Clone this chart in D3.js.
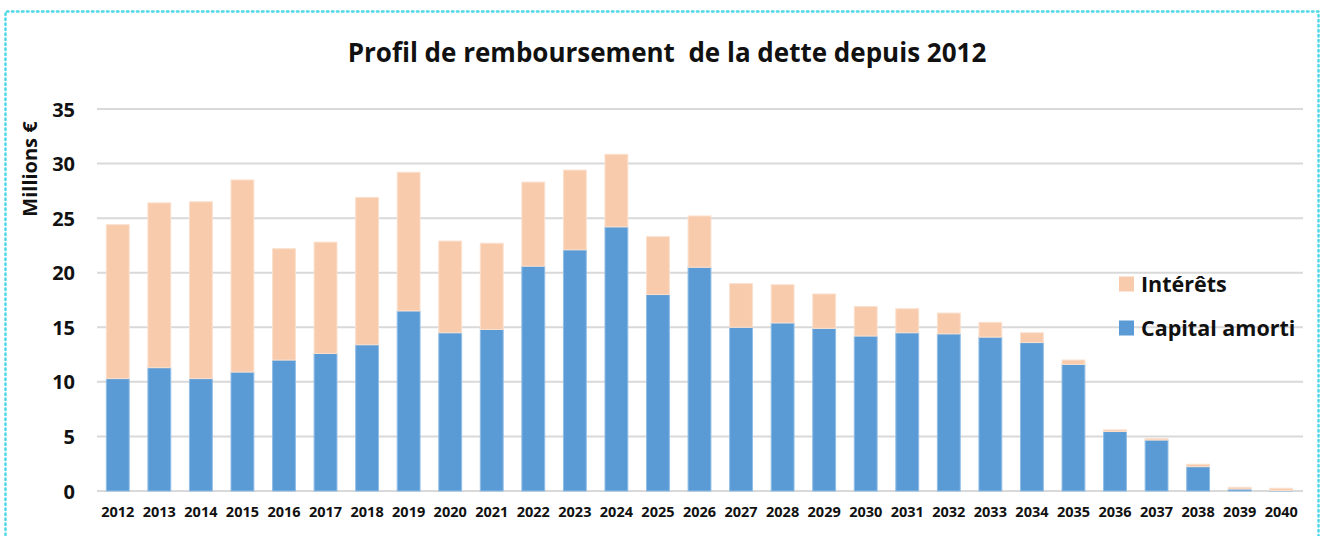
<!DOCTYPE html>
<html>
<head>
<meta charset="utf-8">
<script src="https://cdn.jsdelivr.net/npm/d3@7"></script>
<style>
  html, body { margin: 0; padding: 0; background: #fff; }
  svg { display: block; }
  text { font-family: "Open Sans", "Noto Sans", sans-serif; font-weight: bold; fill: #111; }
</style>
</head>
<body>
<svg id="chart" width="1322" height="536"></svg>
<script>
const years = ["2012","2013","2014","2015","2016","2017","2018","2019","2020","2021","2022","2023","2024","2025","2026","2027","2028","2029","2030","2031","2032","2033","2034","2035","2036","2037","2038","2039","2040"];
const capitalAmorti = [10.3,11.3,10.3,10.9,12.0,12.6,13.4,16.5,14.5,14.8,20.6,22.1,24.2,18.0,20.5,15.0,15.4,14.9,14.2,14.5,14.4,14.1,13.6,11.6,5.45,4.67,2.23,0.18,0.05];
const interets =      [14.1,15.1,16.2,17.6,10.2,10.2,13.5,12.7,8.4,7.9,7.7,7.3,6.65,5.3,4.7,4.0,3.5,3.15,2.7,2.2,1.9,1.35,0.9,0.4,0.15,0.13,0.22,0.16,0.2];
const yTicks = [0,5,10,15,20,25,30,35];
const seriesNames = ["Capital amorti","Intérêts"];
const seriesColors = ["#5b9bd5","#f8cbad"];
const strokeColors = ["#8fbde6","#fbe0cd"];

const svg = d3.select("#chart");

// dotted frame
svg.append("path")
  .attr("d","M5.5,540 L5.5,11.5 L1318.5,11.5 L1318.5,540")
  .attr("fill","none").attr("stroke","#4fd8e6").attr("stroke-width",2.5)
  .attr("stroke-dasharray","1.5 3.5").attr("stroke-linecap","round");

const x = d3.scaleBand().domain(years).range([97, 1302]).paddingInner(0.45).paddingOuter(0.225);
const y = d3.scaleLinear().domain([0,35]).range([491,109]);

// gridlines
svg.append("g").selectAll("line").data(yTicks).join("line")
  .attr("x1",97).attr("x2",1303)
  .attr("y1",d=>y(d)).attr("y2",d=>y(d))
  .attr("stroke","#d9d9d9").attr("stroke-width",2);

// y axis labels
const yAxis = d3.axisLeft(y).tickValues(yTicks).tickSize(0).tickPadding(0);
const gy = svg.append("g").attr("transform","translate(75,0)").call(yAxis);
gy.select(".domain").remove();
gy.selectAll("text").style("font-size","20px").attr("dy","0.35em").attr("fill","#111")
  .style("font-family","'Open Sans', sans-serif").style("font-weight","bold");

// x axis labels
const xAxis = d3.axisBottom(x).tickSize(0).tickPadding(0);
const gx = svg.append("g").attr("transform","translate(0,507)").call(xAxis);
gx.select(".domain").remove();
gx.selectAll("text").style("font-size","14.5px").attr("dy","0.71em").attr("fill","#111")
  .style("font-family","'Open Sans', sans-serif").style("font-weight","bold");

// stacked data
const data = years.map((yr,i)=>({year:yr, "Capital amorti":capitalAmorti[i], "Intérêts":interets[i]}));
const stacked = d3.stack().keys(seriesNames)(data);

svg.append("g").selectAll("g").data(stacked).join("g")
  .attr("fill",(d,i)=>seriesColors[i])
  .attr("stroke",(d,i)=>strokeColors[i])
  .attr("stroke-width",1)
  .selectAll("rect").data(d=>d).join("rect")
  .attr("x",d=>x(d.data.year))
  .attr("width",x.bandwidth())
  .attr("y",d=>y(d[1]))
  .attr("height",d=>Math.max(0,y(d[0])-y(d[1])));

// title
svg.append("text").attr("x",667).attr("y",62).attr("text-anchor","middle")
  .style("font-size","26px").style("white-space","pre")
  .text("Profil de remboursement  de la dette depuis 2012");

// y label
svg.append("text").attr("transform","translate(37,169) rotate(-90)")
  .attr("text-anchor","middle").style("font-size","20px").text("Millions €");

// legend
const legendItems = [{name:"Intérêts",color:seriesColors[1],y:284},{name:"Capital amorti",color:seriesColors[0],y:328}];
const lg = svg.append("g");
lg.selectAll("rect").data(legendItems).join("rect")
  .attr("x",1119).attr("y",d=>d.y-7.5).attr("width",15).attr("height",15).attr("fill",d=>d.color);
lg.selectAll("text").data(legendItems).join("text")
  .attr("x",1141).attr("y",d=>d.y).attr("dy","0.35em").style("font-size","21.5px").text(d=>d.name);
</script>
</body>
</html>
